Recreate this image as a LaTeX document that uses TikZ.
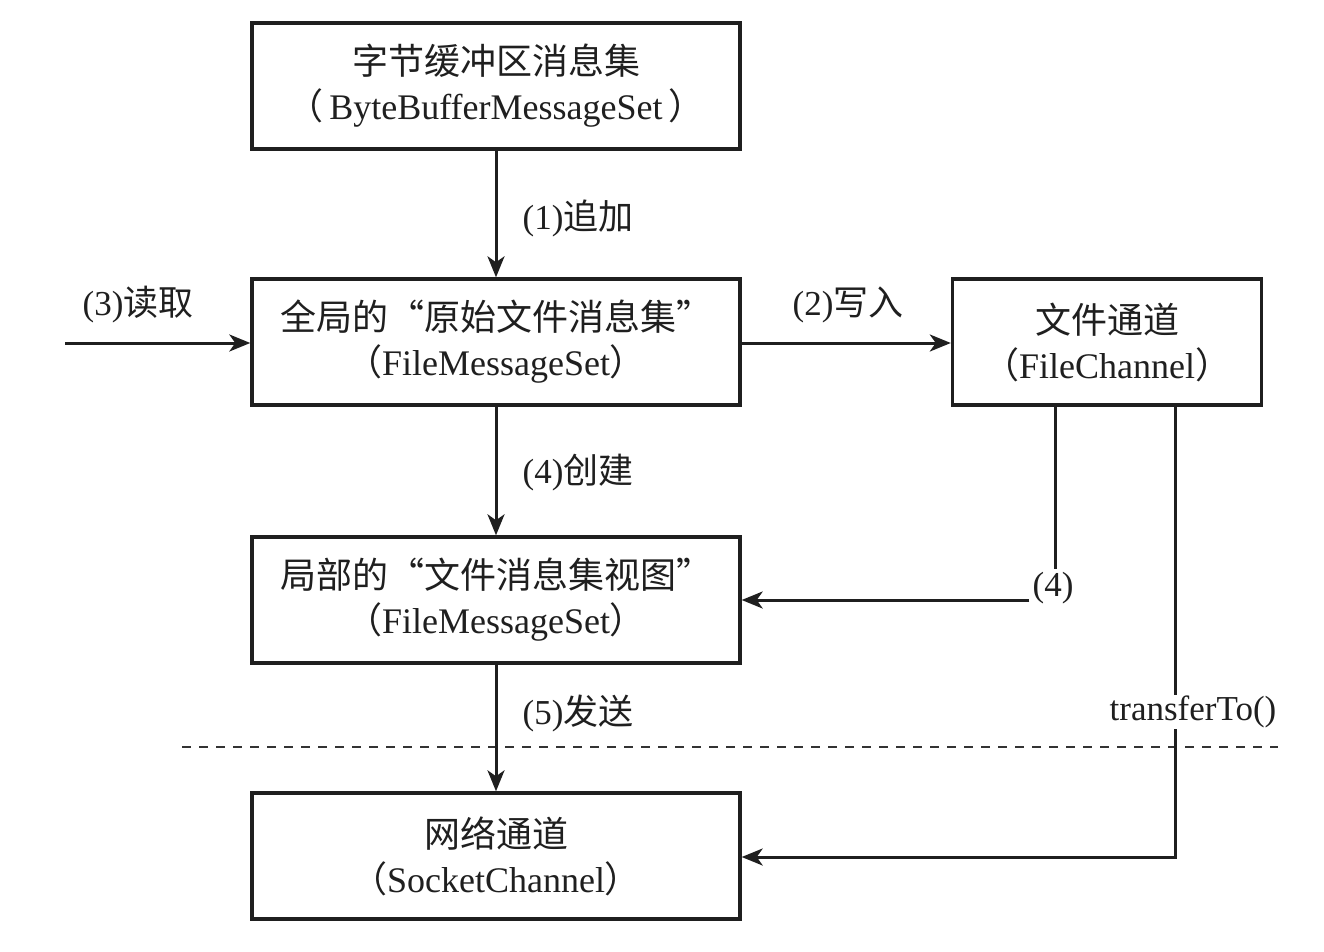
\documentclass[tikz,border=0pt]{standalone}
\usepackage{fontspec}
\setmainfont{Liberation Serif}
\newfontfamily\cjk{Noto Sans CJK SC}
\usetikzlibrary{arrows.meta}
\newcommand{\zh}[1]{{\cjk #1}}
\begin{document}
\begin{tikzpicture}[x=1pt,y=-1pt,
  box/.style={draw=black!88, line width=3.4pt, minimum width=488pt, minimum height=126pt,
    align=center, inner sep=0pt, text=black!88, font=\fontsize{36}{45}\selectfont},
  lbl/.style={font=\fontsize{35}{42}\selectfont, inner sep=3pt, text=black!88},
  arr/.style={draw=black!88, line width=3pt, -{Stealth[length=21pt,width=17pt,inset=6pt]}},
  ln/.style={draw=black!88, line width=3pt},
  dash line/.style={draw=black!80, line width=2pt, dash pattern=on 9pt off 8pt}]
\useasboundingbox[fill=white] (0,0) rectangle (1324,952);

\node[box] (b1) at (496,86) {\zh{字节缓冲区消息集}\\\zh{（}\,ByteBufferMessageSet\,\zh{）}};
\node[box] (b2) at (496,342) {\zh{全局的“原始文件消息集”}\\\zh{（}FileMessageSet\zh{）}};
\node[box, minimum width=309pt] (b3) at (1107,342) {\zh{文件通道}\\\zh{（}FileChannel\zh{）}};
\node[box] (b4) at (496,600) {\zh{局部的“文件消息集视图”}\\\zh{（}FileMessageSet\zh{）}};
\node[box] (b5) at (496,856) {\zh{网络通道}\\\zh{（}SocketChannel\zh{）}};

\coordinate (in3) at (65,343);
\draw[arr] (b1) -- (b2);
\node[lbl] (l1) at (578,218) {(1)\zh{追加}};
\draw[arr] (in3) -- (in3 -| b2.west);
\node[lbl] (l3) at (138,305) {(3)\zh{读取}};
\draw[arr] (b2.east |- in3) -- (b3.west |- in3);
\node[lbl] (l2) at (848,305) {(2)\zh{写入}};
\draw[arr] (b2) -- (b4);
\node[lbl] (lc) at (578,473) {(4)\zh{创建}};

\coordinate (c4) at (1055,600);
\node[lbl] (l4) at (1053,588) {(4)};
\draw[ln] (b3.south -| c4) -- (l4.north -| c4);
\draw[arr] (c4 -| l4.west) -- (c4 -| b4.east);

\draw[dash line] (182,747) -- (1278,747);

\coordinate (c5) at (1175,857);
\draw[arr] (b3.south -| c5) -- (c5) -- (c5 -| b5.east);
\node[lbl, fill=white, inner sep=1pt] (lt) at (1193,712) {transferTo()};

\draw[arr] (b4) -- (b5);
\node[lbl] (l5) at (578,713) {(5)\zh{发送}};
\end{tikzpicture}
\end{document}
